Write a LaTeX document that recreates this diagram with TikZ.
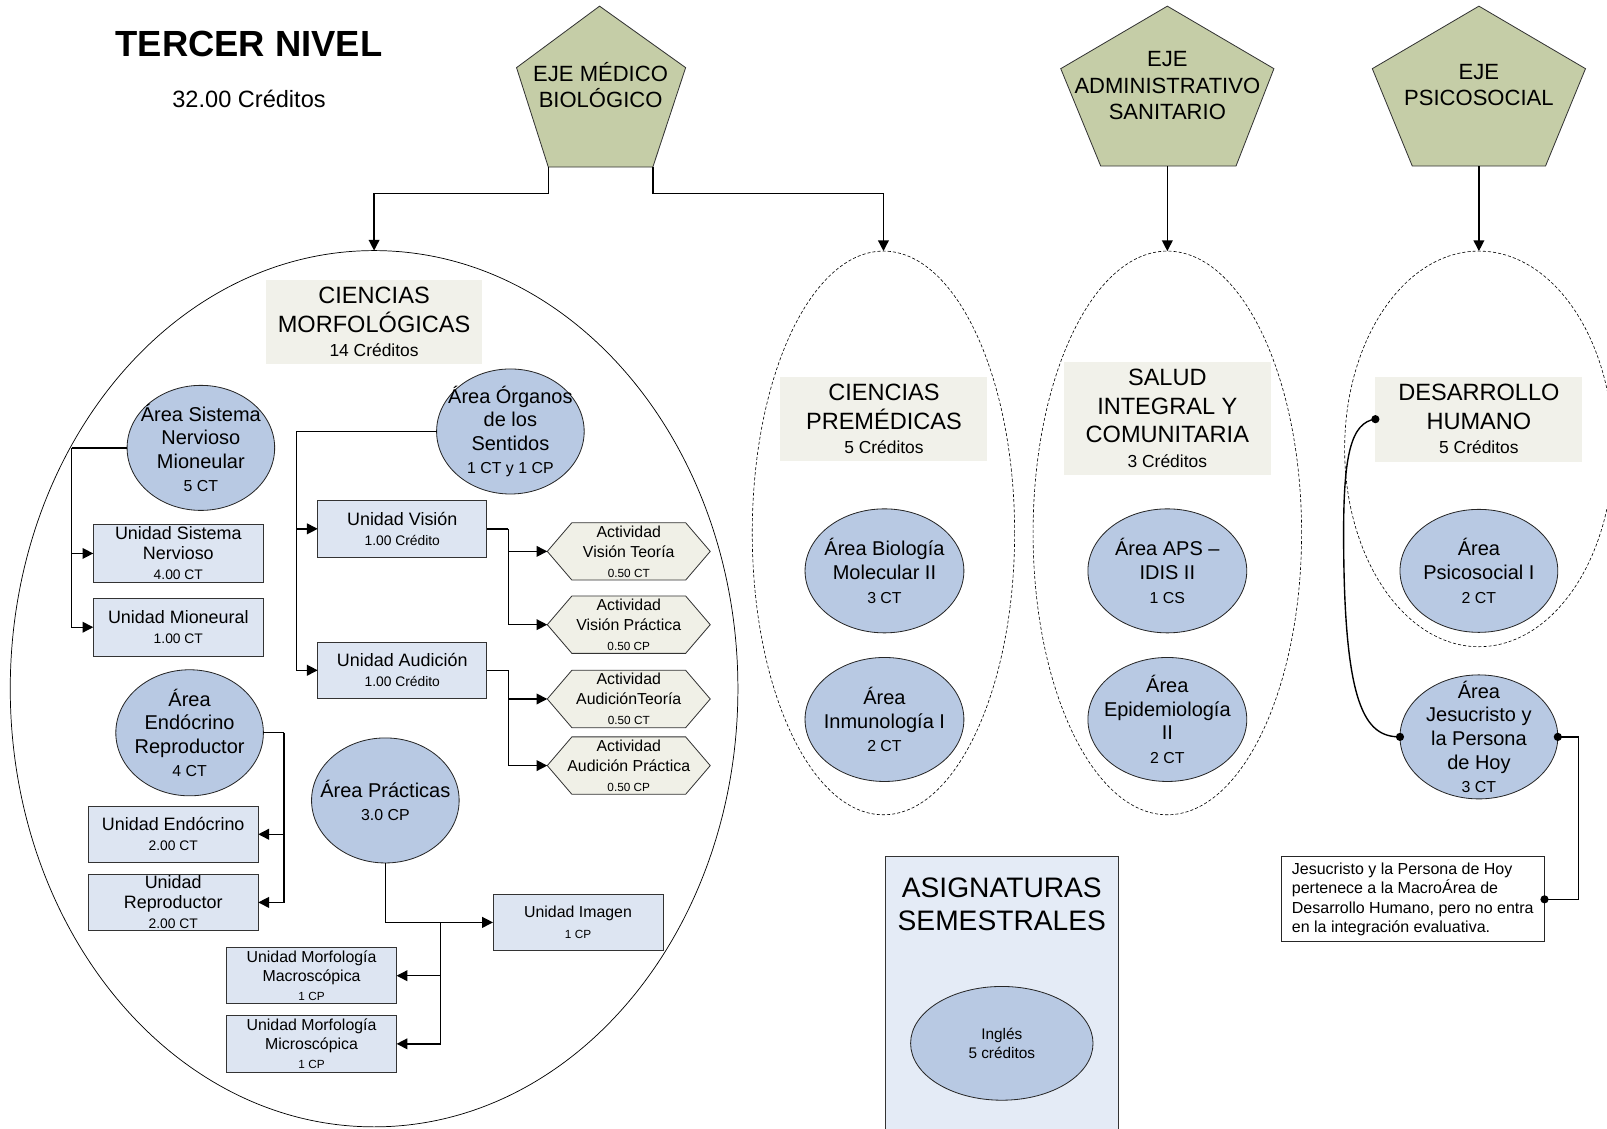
\documentclass[tikz,border=0pt]{standalone}
\usepackage{fontspec}
\setmainfont{Liberation Sans}
\usetikzlibrary{arrows.meta,shapes.geometric}
\newcommand\fsz[2]{\fontsize{#1pt}{#2pt}\selectfont}
\definecolor{ejegreen}{RGB}{197,205,167}
\definecolor{areablue}{RGB}{184,201,227}
\definecolor{unitblue}{RGB}{221,229,242}
\definecolor{labelbg}{RGB}{241,241,234}
\definecolor{actbg}{RGB}{240,240,231}
\definecolor{asigbg}{RGB}{228,235,246}
% hexagonal activity: name, x, y, text
\newcommand\activity[4]{%
  \filldraw[hexline] (#2-79.5,#3) -- (#2-55.5,#3-28) -- (#2+55.5,#3-28) -- (#2+79.5,#3)
     -- (#2+55.5,#3+28) -- (#2-55.5,#3+28) -- cycle;
  \node[hexbox] (#1) at (#2,#3) {#4};}
\begin{document}
\begin{tikzpicture}[x=1pt,y=-1pt,
  every node/.style={inner sep=0pt, outer sep=0pt},
  conn/.style={line width=1.35pt},
  arr/.style={conn,-{Triangle[length=10.5pt,width=10.5pt]}},
  penta/.style={draw=black!80, line width=0.8pt, fill=ejegreen, line join=miter},
  ejetxt/.style={align=center, font=\fsz{21.5}{25.5}},
  groupring/.style={ellipse, draw=black, line width=0.7pt},
  dashring/.style={ellipse, draw=black, line width=0.6pt, dash pattern=on 3pt off 2pt},
  headbox/.style={rectangle, fill=labelbg, align=center, font=\fsz{23}{28}},
  area/.style={ellipse, draw=black!85, line width=0.8pt, fill=areablue},
  areatxt/.style={align=center, font=\fsz{19.5}{23}},
  unit/.style={rectangle, draw=black!80, line width=0.8pt, fill=unitblue,
    minimum width=166pt, minimum height=55pt, align=center, font=\fsz{17.5}{19.5}},
  unitsm/.style={unit, font=\fsz{15.5}{18.5}},
  hexbox/.style={rectangle, minimum width=159pt, minimum height=56pt, align=center, font=\fsz{15.5}{19.5}},
  hexline/.style={draw=black!80, line width=0.8pt, fill=actbg},
]
\useasboundingbox (0,0) rectangle (1568,1101);

% ---- title ----
\node[font=\bfseries\fsz{35.5}{40}] (title) at (243,43) {TERCER NIVEL};
\node[font=\fsz{23}{26}] (credits) at (243,97) {32.00 Créditos};

% ---- axes (pentagons) ----
\filldraw[penta] (585,6) -- (669,66) -- (637,163) -- (535,163) -- (504,66) -- cycle;
\coordinate (mbL) at (535,163);
\coordinate (mbR) at (637,163);
\node[ejetxt] (ejemb) at (586,83) {EJE MÉDICO\\BIOLÓGICO};

\filldraw[penta] (1139,6) -- (1243,67) -- (1206,162) -- (1074,162) -- (1035,67) -- cycle;
\coordinate (asB) at (1139,162);
\node[ejetxt] (ejeas) at (1139,83.5) {EJE\\ADMINISTRATIVO\\SANITARIO};

\filldraw[penta] (1443,6) -- (1547,67) -- (1508,162) -- (1378,162) -- (1339,67) -- cycle;
\coordinate (psB) at (1443,162);
\node[ejetxt] (ejeps) at (1443,83) {EJE\\PSICOSOCIAL};

% ---- macro-area rings ----
\node[groupring, minimum width=710pt, minimum height=855pt] (gcm) at (365,672) {};
\node[dashring, minimum width=256pt, minimum height=550pt] (gcp) at (862,520) {};
\node[dashring, minimum width=262pt, minimum height=550pt] (gsi) at (1139,520) {};
\node[dashring, minimum width=262pt, minimum height=386pt] (gdh) at (1443,438) {};

\draw[arr] (mbL) -- ++(0,26) -| (gcm.north);
\draw[arr] (mbR) -- ++(0,26) -| (gcp.north);
\draw[arr] (asB) -- (gsi.north);
\draw[arr] (psB) -- (gdh.north);

% ---- macro-area headings ----
\node[headbox, minimum width=211pt, minimum height=82pt] (lcm) at (365,314)
  {CIENCIAS\\MORFOLÓGICAS\\[-4pt]{\fsz{17}{20}14 Créditos}};
\node[headbox, minimum width=202pt, minimum height=82pt] (lcp) at (862.5,409)
  {CIENCIAS\\PREMÉDICAS\\[-4pt]{\fsz{17}{20}5 Créditos}};
\node[headbox, minimum width=202pt, minimum height=110pt] (lsi) at (1139,408)
  {SALUD\\INTEGRAL Y\\COMUNITARIA\\[-4pt]{\fsz{17}{20}3 Créditos}};
\node[headbox, minimum width=202pt, minimum height=83pt] (ldh) at (1443,409)
  {DESARROLLO\\HUMANO\\[-4pt]{\fsz{17}{20}5 Créditos}};

% ---- Ciencias Morfológicas ----
\node[area, minimum width=144pt, minimum height=122pt,
  label={[areatxt]center:{Área Sistema\\Nervioso\\Mioneular\\{\fsz{15.5}{18}5 CT}}}] (asn) at (196,437) {};
\node[area, minimum width=144pt, minimum height=122pt,
  label={[areatxt]center:{Área Órganos\\de los\\Sentidos\\{\fsz{15.5}{18}1 CT y 1 CP}}}] (aos) at (498,421) {};
\node[area, minimum width=144pt, minimum height=123pt,
  label={[areatxt]center:{Área\\Endócrino\\Reproductor\\{\fsz{15.5}{18}4 CT}}}] (aer) at (185,715) {};
\node[area, minimum width=144pt, minimum height=122pt,
  label={[areatxt]center:{Área Prácticas\\{\fsz{15.5}{18}3.0 CP}}}] (apr) at (376,781) {};

\node[unit, minimum height=56pt] (usn) at (174,540) {Unidad Sistema\\Nervioso\\{\fsz{13.5}{16}4.00 CT}};
\node[unit, minimum height=56pt] (umn) at (174,612) {Unidad Mioneural\\{\fsz{13.5}{16}1.00 CT}};
\node[unit, minimum width=165pt] (uvi) at (392.5,516) {Unidad Visión\\{\fsz{13.5}{16}1.00 Crédito}};
\node[unit, minimum width=165pt] (uau) at (392.5,654) {Unidad Audición\\{\fsz{13.5}{16}1.00 Crédito}};
\node[unit] (uen) at (169,814) {Unidad Endócrino\\{\fsz{13.5}{16}2.00 CT}};
\node[unit] (ure) at (169,880.5) {Unidad\\Reproductor\\{\fsz{13.5}{16}2.00 CT}};
\node[unitsm] (uim) at (564,900) {Unidad Imagen\\[2pt]{\fsz{11.5}{14}1 CP}};
\node[unitsm] (umm) at (304,952) {Unidad Morfología\\Macroscópica\\{\fsz{11.5}{14}1 CP}};
\node[unitsm] (umi) at (304,1018.5) {Unidad Morfología\\Microscópica\\{\fsz{11.5}{14}1 CP}};

\activity{avt}{613.5}{538}{Actividad\\Visión Teoría\\{\fsz{11.5}{14}0.50 CT}}
\activity{avp}{613.5}{609.5}{Actividad\\Visión Práctica\\{\fsz{11.5}{14}0.50 CP}}
\activity{aat}{613.5}{682}{Actividad\\AudiciónTeoría\\{\fsz{11.5}{14}0.50 CT}}
\activity{aap}{613.5}{747}{Actividad\\Audición Práctica\\{\fsz{11.5}{14}0.50 CP}}

\draw[conn] (asn.west) -- ++(-54,0) coordinate (jsn);
\draw[arr] (jsn) |- (usn.west);
\draw[arr] (jsn) |- (umn.west);

\draw[conn] (aos.west) -- ++(-137,0) coordinate (jos);
\draw[arr] (jos) |- (uvi.west);
\draw[arr] (jos) |- (uau.west);

\draw[conn] (uvi.east) -- ++(21,0) coordinate (jvi);
\draw[arr] (jvi) |- (avt.west);
\draw[arr] (jvi) |- (avp.west);

\draw[conn] (uau.east) -- ++(21,0) coordinate (jau);
\draw[arr] (jau) |- (aat.west);
\draw[arr] (jau) |- (aap.west);

\draw[conn] (aer.east) -- ++(20,0) coordinate (jer);
\draw[arr] (jer) |- (uen.east);
\draw[arr] (jer) |- (ure.east);

\draw[arr] (apr.south) |- (uim.west);
\path (apr.south |- uim.west) ++(54,0) coordinate (jpr);
\draw[arr] (jpr) |- (umm.east);
\draw[arr] (jpr) |- (umi.east);

% ---- Ciencias Premédicas ----
\node[area, minimum width=155pt, minimum height=121pt,
  label={[areatxt]center:{Área Biología\\Molecular II\\{\fsz{15.5}{18}3 CT}}}] (abm) at (863,557) {};
\node[area, minimum width=155pt, minimum height=121pt,
  label={[areatxt]center:{Área\\Inmunología I\\{\fsz{15.5}{18}2 CT}}}] (ain) at (863,702) {};

% ---- Salud Integral y Comunitaria ----
\node[area, minimum width=155pt, minimum height=121pt,
  label={[areatxt]center:{Área APS –\\IDIS II\\{\fsz{15.5}{18}1 CS}}}] (aaps) at (1139,557) {};
\node[area, minimum width=155pt, minimum height=121pt,
  label={[areatxt]center:{Área\\Epidemiología\\II\\{\fsz{15.5}{18}2 CT}}}] (aepi) at (1139,702) {};

% ---- Desarrollo Humano ----
\node[area, minimum width=154pt, minimum height=120pt,
  label={[areatxt]center:{Área\\Psicosocial I\\{\fsz{15.5}{18}2 CT}}}] (apsi) at (1443,557) {};
\node[area, minimum width=154pt, minimum height=121pt,
  label={[areatxt]center:{Área\\Jesucristo y\\la Persona\\de Hoy\\{\fsz{15.5}{18}3 CT}}}] (ajes) at (1443,719) {};

\node[draw=black!85, line width=0.8pt, fill=white, minimum width=257pt, minimum height=83pt,
  align=left, font=\fsz{15.6}{19}] (note) at (1378.5,877.5)
  {Jesucristo y la Persona de Hoy\\pertenece a la MacroÁrea de\\Desarrollo Humano, pero no entra\\en la integración evaluativa.};

\draw[conn] (ldh.west) .. controls (1318,412) and (1311,445) .. (1311,520)
  .. controls (1311,690) and (1332,719) .. (ajes.west);
\fill (ldh.west) circle[radius=4pt];
\fill (ajes.west) circle[radius=4pt];

\draw[conn] (ajes.east) -- ++(20,0) |- (note.east);
\fill (ajes.east) circle[radius=4pt];
\fill (note.east) circle[radius=4pt];

% ---- semester subjects ----
\node[rectangle, draw=black!80, line width=0.8pt, fill=asigbg, minimum width=227pt, minimum height=290pt]
  (asig) at (977.5,981) {};
\node[align=center, font=\fsz{27.5}{32}] (asigt) at (977.5,882) {ASIGNATURAS\\SEMESTRALES};
\node[area, minimum width=178pt, minimum height=111pt, align=center, font=\fsz{15}{19}]
  (ing) at (977.5,1018) {Inglés\\5 créditos};
\end{tikzpicture}
\end{document}
